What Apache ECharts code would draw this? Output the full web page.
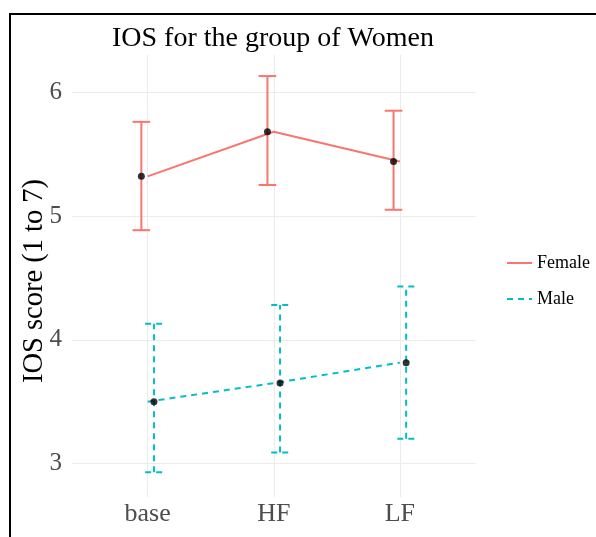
<!DOCTYPE html>
<html>
<head>
<meta charset="utf-8">
<script src="https://cdn.jsdelivr.net/npm/echarts@6/dist/echarts.min.js"></script>
<style>html,body{margin:0;padding:0;background:#fff}#c{width:596px;height:537px}</style>
</head>
<body>
<div id="c"></div>
<script>
const categories = ['base', 'HF', 'LF'];
const groups = ['Female', 'Male'];
const femaleMean = [5.32, 5.68, 5.44];
const femaleLower = [4.885, 5.25, 5.05];
const femaleUpper = [5.76, 6.13, 5.85];
const maleMean = [3.50, 3.65, 3.815];
const maleLower = [2.93, 3.09, 3.20];
const maleUpper = [4.13, 4.28, 4.43];
const yTicks = [3, 4, 5, 6];

const FONT = 'Liberation Serif';
const colors = {Female: '#F8766D', Male: '#00BFC4'};
const dodge = {Female: -0.05, Male: 0.05};
const capHalf = 0.07;

function lineData(mean) { return mean.map((v, i) => [i + 1, v]); }
function pointData(mean, off) { return mean.map((v, i) => [i + 1 + off, v]); }
function errData(lo, hi, off) { return lo.map((v, i) => [i + 1 + off, v, hi[i]]); }

function errSeries(name, lo, hi, dashed) {
  return {
    type: 'custom',
    name: name + ' error',
    data: errData(lo, hi, dodge[name]),
    encode: {x: 0, y: [1, 2]},
    z: 3,
    silent: true,
    renderItem: function (params, api) {
      const x = api.value(0), l = api.value(1), h = api.value(2);
      const pLo = api.coord([x, l]), pHi = api.coord([x, h]);
      const left = api.coord([x - capHalf, l])[0], right = api.coord([x + capHalf, l])[0];
      const style = {stroke: colors[name], lineWidth: 2, lineDash: dashed ? [6, 5] : null, fill: null};
      return {
        type: 'group',
        children: [
          {type: 'line', shape: {x1: pLo[0], y1: pLo[1], x2: pHi[0], y2: pHi[1]}, style: style},
          {type: 'line', shape: {x1: left, y1: pLo[1], x2: right, y2: pLo[1]}, style: style},
          {type: 'line', shape: {x1: left, y1: pHi[1], x2: right, y2: pHi[1]}, style: style}
        ]
      };
    }
  };
}

const chart = echarts.init(document.getElementById('c'), null, {renderer: 'canvas'});
chart.setOption({
  backgroundColor: '#fff',
  animation: false,
  title: {
    text: 'IOS for the group of Women',
    left: 112, top: 25, padding: 0,
    textStyle: {fontFamily: FONT, fontSize: 28, fontWeight: 'normal', color: '#000'}
  },
  legend: {
    orient: 'vertical',
    left: 506, top: 254, padding: 0,
    itemWidth: 25, itemHeight: 14, itemGap: 18,
    data: groups,
    itemStyle: {opacity: 0},
    textStyle: {fontFamily: FONT, fontSize: 18, color: '#000'}
  },
  grid: {left: 72, right: 120.5, top: 55, bottom: 40, containLabel: false},
  xAxis: {
    type: 'value', min: 0.4, max: 3.6,
    axisLine: {show: false},
    axisTick: {show: false, customValues: [1, 2, 3]},
    axisLabel: {
      customValues: [1, 2, 3],
      formatter: v => categories[Math.round(v) - 1] || '',
      fontFamily: FONT, fontSize: 26, color: '#4D4D4D', margin: 4
    },
    splitLine: {show: true, lineStyle: {color: '#EBEBEB', width: 1}}
  },
  yAxis: {
    type: 'value', min: 2.73, max: 6.30,
    name: 'IOS score (1 to 7)', nameLocation: 'middle', nameGap: 23, nameRotate: 90,
    nameMoveOverlap: false,
    nameTextStyle: {fontFamily: FONT, fontSize: 28.5, color: '#000', padding: [0, 10, 0, 0]},
    axisLine: {show: false},
    axisTick: {show: false, customValues: yTicks},
    axisLabel: {customValues: yTicks, fontFamily: FONT, fontSize: 25, color: '#4D4D4D', margin: 10},
    splitLine: {show: true, lineStyle: {color: '#EBEBEB', width: 1}}
  },
  graphic: [
    {type: 'line', shape: {x1: 10, y1: 14, x2: 596, y2: 14}, style: {stroke: '#000', lineWidth: 2}, z: 100},
    {type: 'line', shape: {x1: 10, y1: 13, x2: 10, y2: 537}, style: {stroke: '#000', lineWidth: 2}, z: 100}
  ],
  series: [
    {type: 'line', name: 'Female', data: lineData(femaleMean), symbol: 'none', z: 2,
     lineStyle: {color: colors.Female, width: 2, type: 'solid'}, itemStyle: {color: colors.Female}},
    {type: 'line', name: 'Male', data: lineData(maleMean), symbol: 'none', z: 2,
     lineStyle: {color: colors.Male, width: 2, type: [6, 5]}, itemStyle: {color: colors.Male}},
    errSeries('Female', femaleLower, femaleUpper, false),
    errSeries('Male', maleLower, maleUpper, true),
    {type: 'scatter', name: 'Female points', data: pointData(femaleMean, dodge.Female), symbolSize: 7, z: 5,
     itemStyle: {color: '#000'}, silent: true},
    {type: 'scatter', name: 'Male points', data: pointData(maleMean, dodge.Male), symbolSize: 7, z: 5,
     itemStyle: {color: '#000'}, silent: true}
  ]
});
</script>
</body>
</html>
